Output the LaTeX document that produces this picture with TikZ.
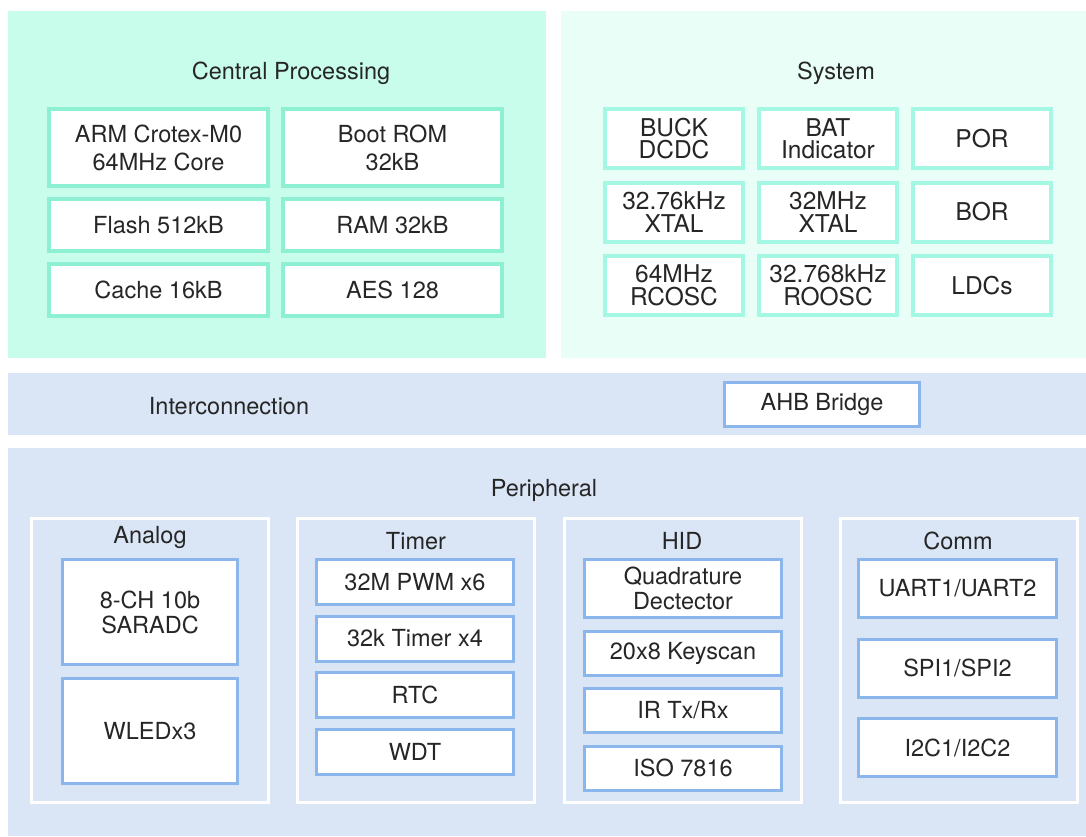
\documentclass[tikz,border=0pt]{standalone}
\usepackage{fontspec}
\setmainfont{TeX Gyre Heros}
\usetikzlibrary{positioning}

\definecolor{cpfill}{HTML}{C8FDEC}
\definecolor{cpline}{HTML}{8EF0D2}
\definecolor{sysfill}{HTML}{EAFEF8}
\definecolor{sysline}{HTML}{A3F7E3}
\definecolor{busfill}{HTML}{DAE6F6}
\definecolor{busline}{HTML}{8AB6EC}
\definecolor{txt}{HTML}{262626}

\begin{document}
\begin{tikzpicture}[
    x=1pt, y=-1pt,
    every node/.style={font=\fontsize{23.5}{28}\selectfont, text=txt, inner sep=0pt, outer sep=0pt, align=center},
    panel/.style={anchor=north west, fill=#1},
    cpbox/.style={draw=cpline, line width=4pt, fill=white, minimum width=219pt, minimum height=52pt},
    sysbox/.style={draw=sysline, line width=4pt, fill=white, minimum width=138pt, minimum height=59pt, font=\fontsize{24.5}{22.5}\selectfont},
    group/.style={draw=white, line width=3pt, anchor=north west, minimum width=237pt, minimum height=284pt},
    perbox/.style={draw=busline, line width=3pt, fill=white, minimum width=197pt, minimum height=44pt, font=\fontsize{23.5}{25}\selectfont}
]
\path[use as bounding box, fill=white] (0,0) rectangle (1086,836);

% Panels
\node[panel=cpfill, minimum width=538pt, minimum height=347pt] (cpu) at (8,11) {};
\node[panel=sysfill, minimum width=525pt, minimum height=347pt] (sys) at (561,11) {};
\node[panel=busfill, minimum width=1078pt, minimum height=62pt] (bus) at (8,373) {};
\node[panel=busfill, minimum width=1078pt, minimum height=388pt] (per) at (8,448) {};

\node (cpuTitle) at (291,73) {Central Processing};
\node (sysTitle) at (836,73) {System};
\node (busTitle) at (229,406) {Interconnection};
\node (perTitle) at (544,490) {Peripheral};

% Central processing
\node[cpbox, minimum height=77pt] (core) at (158.5,147.5) {ARM Crotex-M0\\64MHz Core};
\node[cpbox, minimum height=77pt, right=15pt of core] (bootRom) {Boot ROM\\32kB};
\node[cpbox, below=13pt of core] (flash) {Flash 512kB};
\node[cpbox, below=13pt of flash] (cache) {Cache 16kB};
\node[cpbox, below=13pt of bootRom] (ram) {RAM 32kB};
\node[cpbox, below=13pt of ram] (aes) {AES 128};

% System
\node[sysbox] (buck) at (674,138.5) {BUCK\\DCDC};
\node[sysbox, right=16pt of buck] (bat) {BAT\\Indicator};
\node[sysbox, right=16pt of bat] (por) {POR};
\node[sysbox, below=14.5pt of buck] (xtalLo) {32.76kHz\\XTAL};
\node[sysbox, below=14.5pt of bat] (xtalHi) {32MHz\\XTAL};
\node[sysbox, below=14.5pt of por] (bor) {BOR};
\node[sysbox, below=14.5pt of xtalLo] (rcosc) {64MHz\\RCOSC};
\node[sysbox, below=14.5pt of xtalHi] (roosc) {32.768kHz\\ROOSC};
\node[sysbox, below=14.5pt of bor] (ldc) {LDCs};

% Interconnection
\node[perbox, minimum width=195pt] (ahb) at (822,404.5) {AHB Bridge};

% Peripheral groups
\node[group] (analog) at (31.5,518.5) {};
\node[group, right=29pt of analog] (timer) {};
\node[group, right=30pt of timer] (hid) {};
\node[group, right=39pt of hid] (comm) {};

\node (analogTitle) at (150,537) {Analog};
\node (timerTitle) at (416,541) {Timer};
\node (hidTitle) at (682,541) {HID};
\node (commTitle) at (958,541) {Comm};

\node[perbox, minimum width=175pt, minimum height=105pt] (adc) at (150,612) {8-CH 10b\\SARADC};
\node[perbox, minimum width=175pt, minimum height=105pt, below=14pt of adc] (wled) {WLEDx3};

\node[perbox, minimum height=45pt] (pwm) at (415,582) {32M PWM x6};
\node[perbox, minimum height=45pt, below=11.5pt of pwm] (tmr) {32k Timer x4};
\node[perbox, minimum height=45pt, below=11.5pt of tmr] (rtc) {RTC};
\node[perbox, minimum height=45pt, below=11.5pt of rtc] (wdt) {WDT};

\node[perbox, minimum height=58pt] (quad) at (683,588.5) {Quadrature\\Dectector};
\node[perbox, below=13.5pt of quad] (keyscan) {20x8 Keyscan};
\node[perbox, below=13.5pt of keyscan] (ir) {IR Tx/Rx};
\node[perbox, below=13.5pt of ir] (iso) {ISO 7816};

\node[perbox, minimum width=198pt, minimum height=58pt] (uart) at (957.5,588.5) {UART1/UART2};
\node[perbox, minimum width=198pt, minimum height=58pt, below=21.5pt of uart] (spi) {SPI1/SPI2};
\node[perbox, minimum width=198pt, minimum height=58pt, below=21.5pt of spi] (iic) {I2C1/I2C2};

\end{tikzpicture}
\end{document}
